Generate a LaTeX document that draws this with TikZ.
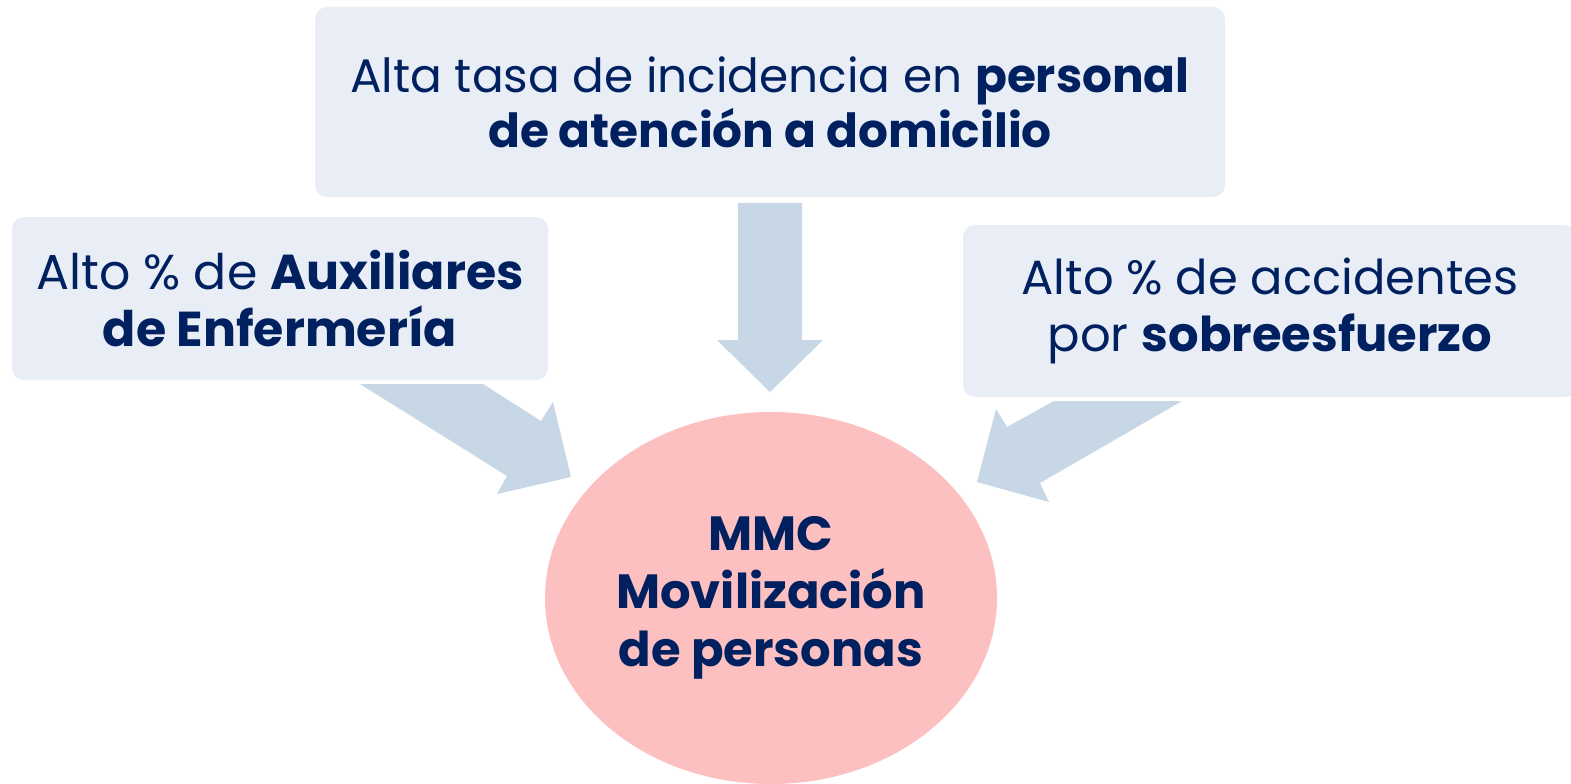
\documentclass[tikz,border=0pt]{standalone}
\usepackage{fontspec}
\setmainfont{Poppins}
\usetikzlibrary{shapes.geometric}
\definecolor{boxfill}{HTML}{E9EEF6}
\definecolor{arrowfill}{HTML}{C7D7E6}
\definecolor{ellfill}{HTML}{FCC0C1}
\definecolor{navy}{HTML}{002060}
\begin{document}
\begin{tikzpicture}[x=1pt,y=-1pt,
  box/.style={draw=none,fill=boxfill,rounded corners=12pt,align=center,text=navy,inner sep=0pt},
  blockarrow/.style={fill=arrowfill,draw=none},
  hub/.style={ellipse,fill=ellfill,draw=none,inner sep=0pt,align=center,text=navy,
    font=\bfseries\fontsize{48}{58}\selectfont}]
\useasboundingbox (0,0) rectangle (1571,784);
\fill[white] (0,0) rectangle (1571,784);
% boxes
\node[box,minimum width=910pt,minimum height=190pt,font=\fontsize{47}{55}\selectfont] (top) at (770,102)
  {Alta tasa de incidencia en \textbf{personal}\\ \textbf{de atención a domicilio}};
\node[box,minimum width=536pt,minimum height=163pt,font=\fontsize{49}{57}\selectfont] (left) at (280,298.5)
  {Alto \% de \textbf{Auxiliares}\\ \textbf{de Enfermería}};
\node[box,minimum width=614pt,minimum height=172pt,font=\fontsize{48}{57}\selectfont] (right) at (1270,311)
  {Alto \% de accidentes\\ por \textbf{sobreesfuerzo}};
% hub
\node[hub,minimum width=452pt,minimum height=372pt] (hub) at (771,598)
  {MMC\\ Movilización\\ de personas};
% arrows
\fill[blockarrow] (738,203) -- (802,203) -- (802,340) -- (823,340) -- (770,392)
  -- (717,340) -- (738,340) -- cycle;
\fill[blockarrow] (360,384) -- (483,384) -- (541,421) -- (553,402) -- (571,477)
  -- (497,494) -- (507,476) -- cycle;
\fill[blockarrow] (1182,401) -- (1054,401) -- (1007,427) -- (996,409) -- (977,482)
  -- (1049,502) -- (1040,483) -- cycle;
\end{tikzpicture}
\end{document}
